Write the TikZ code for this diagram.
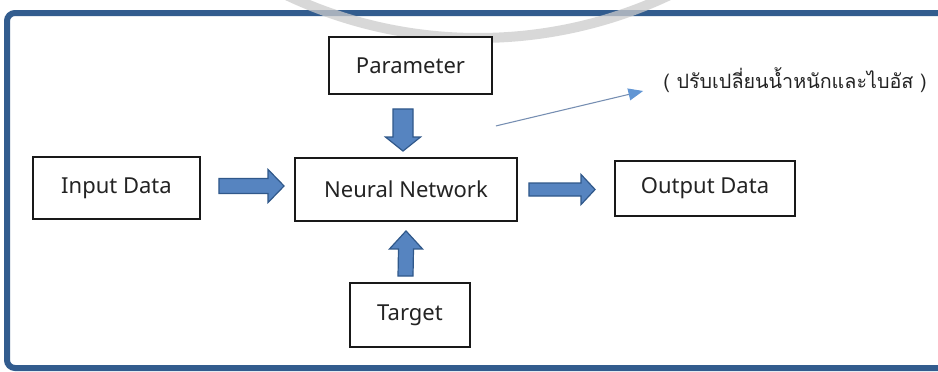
\documentclass[tikz,border=0pt]{standalone}
\usepackage{fontspec}
\setmainfont{Noto Sans}
\newfontfamily\thaifont[Script=Thai]{Loma}
\usetikzlibrary{calc,arrows.meta}
\definecolor{framec}{RGB}{50,92,142}
\definecolor{arrfill}{RGB}{86,132,192}
\definecolor{arrdraw}{RGB}{48,88,138}
\definecolor{thinc}{RGB}{118,142,178}
\definecolor{tipc}{RGB}{98,150,212}
\definecolor{txtc}{RGB}{35,35,35}
\begin{document}
\begin{tikzpicture}[x=0.75pt,y=-0.75pt,
  box/.style={draw=black!90, line width=1.4pt, fill=white, inner sep=0pt,
    font=\fontsize{16.5}{19}\selectfont, text=txtc},
  barrow/.style={draw=arrdraw, line width=0.9pt, fill=arrfill, line join=miter},
  thinarrow/.style={thinc, line width=0.8pt, -{Triangle[length=11pt,width=9pt,color=tipc]}}]
\useasboundingbox (0,0) rectangle (938,371);
\begin{scope}
  \clip (0,0) rectangle (938,371);
  \fill[white] (0,0) rectangle (938,371);
  \draw[framec, line width=4.5pt, rounded corners=6pt] (7,13) rectangle (960,368);
  \draw[black!20, line width=7.5pt, opacity=0.75] (478,-410) circle[radius=336pt];
\end{scope}

% boxes
\node[box, minimum width=125.25pt, minimum height=46.5pt] (in) at (116.5,188) {Input Data};
\node[box, minimum width=166.5pt, minimum height=47.25pt] (nn) at (406,189.5) {Neural Network};
\node[box, minimum width=135pt, minimum height=41.25pt] (out) at (705,188.5) {Output Data};
\node[box, minimum width=122.25pt, minimum height=42.75pt] (par) at (410.5,65.5) {Parameter};
\node[box, minimum width=90pt, minimum height=48pt] (tg) at (410,315) {Target};
\node[text=txtc, inner sep=0pt] (note) at (795,80)
  {\thaifont\fontsize{14.8}{17}\selectfont ( ปรับเปลี่ยนน้ำหนักและไบอัส )};

% block arrow end points
\coordinate (a1s) at ($(in.east)+(18,-2)$);
\coordinate (a1e) at ($(nn.west)+(-10,-3.5)$);
\coordinate (a2s) at ($(nn.east)+(11,0)$);
\coordinate (a2e) at ($(out.west)+(-19,1)$);
\coordinate (a3s) at ($(par.south)+(-7.5,14)$);
\coordinate (a3e) at ($(nn.north)+(-3,-6)$);
\coordinate (a4s) at ($(tg.north)+(-4.5,-6)$);
\coordinate (a4e) at ($(nn.south)+(0,9)$);

% input -> nn
\draw[barrow] ($(a1s)+(0,-7.5)$) -- ($(a1e)+(-16,-7.5)$) -- ($(a1e)+(-16,-16.5)$) -- (a1e)
  -- ($(a1e)+(-16,16.5)$) -- ($(a1e)+(-16,7.5)$) -- ($(a1s)+(0,7.5)$) -- cycle;
% nn -> output
\draw[barrow] ($(a2s)+(0,-6.5)$) -- ($(a2e)+(-14,-6.5)$) -- ($(a2e)+(-14,-15)$) -- (a2e)
  -- ($(a2e)+(-14,15)$) -- ($(a2e)+(-14,6.5)$) -- ($(a2s)+(0,6.5)$) -- cycle;
% parameter -> nn (down)
\draw[barrow] ($(a3s)+(-10,0)$) -- ($(a3e)+(-10,-14)$) -- ($(a3e)+(-17.5,-14)$) -- (a3e)
  -- ($(a3e)+(17.5,-14)$) -- ($(a3e)+(10,-14)$) -- ($(a3s)+(10,0)$) -- cycle;
% target -> nn (up)
\draw[barrow] ($(a4s)+(-7.5,0)$) -- ($(a4e)+(-7.5,18)$) -- ($(a4e)+(-16.5,18)$) -- (a4e)
  -- ($(a4e)+(16.5,18)$) -- ($(a4e)+(7.5,18)$) -- ($(a4s)+(7.5,0)$) -- cycle;

% thin arrow towards the note
\coordinate (ts) at ($(par.south east)+(3,31)$);
\coordinate (te) at ($(note.west)+(-20,11)$);
\draw[thinarrow] (ts) -- (te);
\end{tikzpicture}
\end{document}
